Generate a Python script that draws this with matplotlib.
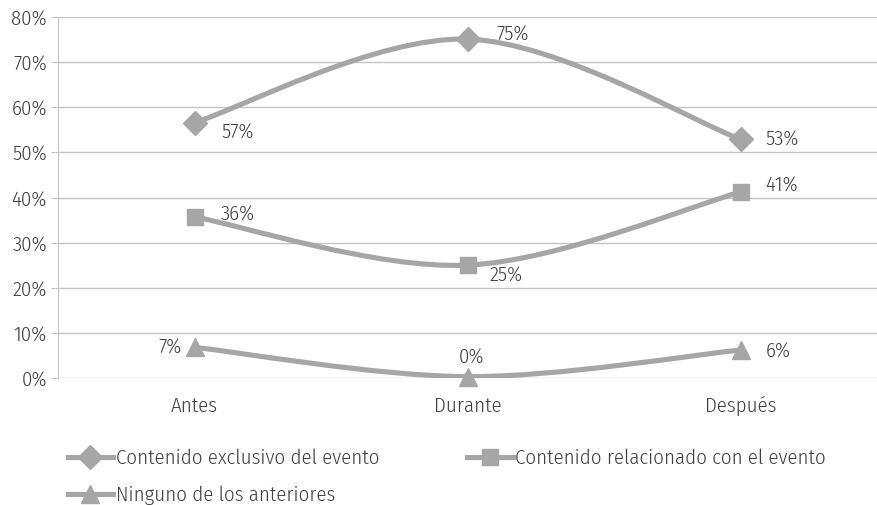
import matplotlib
matplotlib.use("Agg")
import matplotlib.pyplot as plt
from matplotlib.path import Path
from matplotlib.patches import PathPatch
from matplotlib.lines import Line2D

# data
categories = ["Antes", "Durante", "Después"]
exclusivo = [0.566, 0.751, 0.529]
relacionado = [0.357, 0.250, 0.412]
ninguno = [0.068, 0.003, 0.062]
series_names = ["Contenido exclusivo del evento",
                "Contenido relacionado con el evento",
                "Ninguno de los anteriores"]
yticks = [0, 0.1, 0.2, 0.3, 0.4, 0.5, 0.6, 0.7, 0.8]

plt.rcParams["font.family"] = ["Fira Sans Condensed", "DejaVu Sans"]
plt.rcParams["font.weight"] = 300

gray = "#a6a6a8"
txt = "#404040"
fs = 15

fig = plt.figure(figsize=(8.77, 5.05), dpi=100)
ax = fig.add_axes([58 / 877, 1 - 378 / 505, 1 - 58 / 877, (378 - 17) / 505])


def smooth_path(xs, ys):
    # excel-like smoothed line: bezier segments
    verts = [(xs[0], ys[0])]
    codes = [Path.MOVETO]
    n = len(xs)
    for i in range(n - 1):
        x0, y0 = xs[max(i - 1, 0)], ys[max(i - 1, 0)]
        x1, y1 = xs[i], ys[i]
        x2, y2 = xs[i + 1], ys[i + 1]
        x3, y3 = xs[min(i + 2, n - 1)], ys[min(i + 2, n - 1)]
        c1 = (x1 + (x2 - x0) / 6, y1 + (y2 - y0) / 6)
        c2 = (x2 - (x3 - x1) / 6, y2 - (y3 - y1) / 6)
        verts += [c1, c2, (x2, y2)]
        codes += [Path.CURVE4] * 3
    return Path(verts, codes)


xs = list(range(len(categories)))
markers = ["D", "s", "^"]
msizes = [12, 11.5, 13]
for vals, m, ms in zip([exclusivo, relacionado, ninguno], markers, msizes):
    ax.add_patch(PathPatch(smooth_path(xs, vals), fill=False, edgecolor=gray,
                           lw=3.7, capstyle="round", zorder=3))
    ax.plot(xs, vals, ls="none", marker=m, ms=ms, color=gray, zorder=4, clip_on=False)

# data labels (offsets in points)
label_offsets = {
    0: [(19, -7, "left"), (21, 4, "left"), (18, 0, "left")],
    1: [(19, 2, "left"), (16, -7, "left"), (18, 5, "left")],
    2: [(-9, 0, "right"), (3, 14, "center"), (18, -1, "left")],
}
for si, vals in enumerate([exclusivo, relacionado, ninguno]):
    for i, v in enumerate(vals):
        dx, dy, ha = label_offsets[si][i]
        ax.annotate(f"{round(v * 100):.0f}%", (i, v), xytext=(dx, dy),
                    textcoords="offset points", ha=ha, va="center",
                    fontsize=fs, color=txt, zorder=5)

ax.set_xlim(-0.5, 2.5)
ax.set_ylim(0, 0.8)
ax.set_yticks(yticks)
ax.set_yticklabels([f"{int(round(t * 100))}%" for t in yticks])
ax.set_xticks(xs)
ax.set_xticklabels(categories)
ax.yaxis.grid(True, color="#c4c4c4", lw=1)
ax.set_axisbelow(True)
for s in ["top", "right", "bottom"]:
    ax.spines[s].set_visible(False)
ax.spines["left"].set_color("#c4c4c4")
ax.tick_params(axis="y", length=5, color="#c4c4c4", labelsize=fs, labelcolor=txt, pad=3)
ax.tick_params(axis="x", length=0, labelsize=fs, labelcolor=txt, pad=13)

# legend: row order exclusivo, relacionado / ninguno
handles = [Line2D([], [], color=gray, lw=3.7, marker=m, ms=ms)
           for m, ms in zip(markers, msizes)]
order = [0, 2, 1]
fig.legend([handles[i] for i in order], [series_names[i] for i in order],
           loc="upper left", bbox_to_anchor=(0.077, 0.112),
           ncol=2, frameon=False, fontsize=fs, labelcolor=txt, handlelength=2.2,
           handletextpad=0.12, columnspacing=4.2, labelspacing=0.85,
           borderaxespad=0, borderpad=0)

fig.savefig("out.png", dpi=100)
